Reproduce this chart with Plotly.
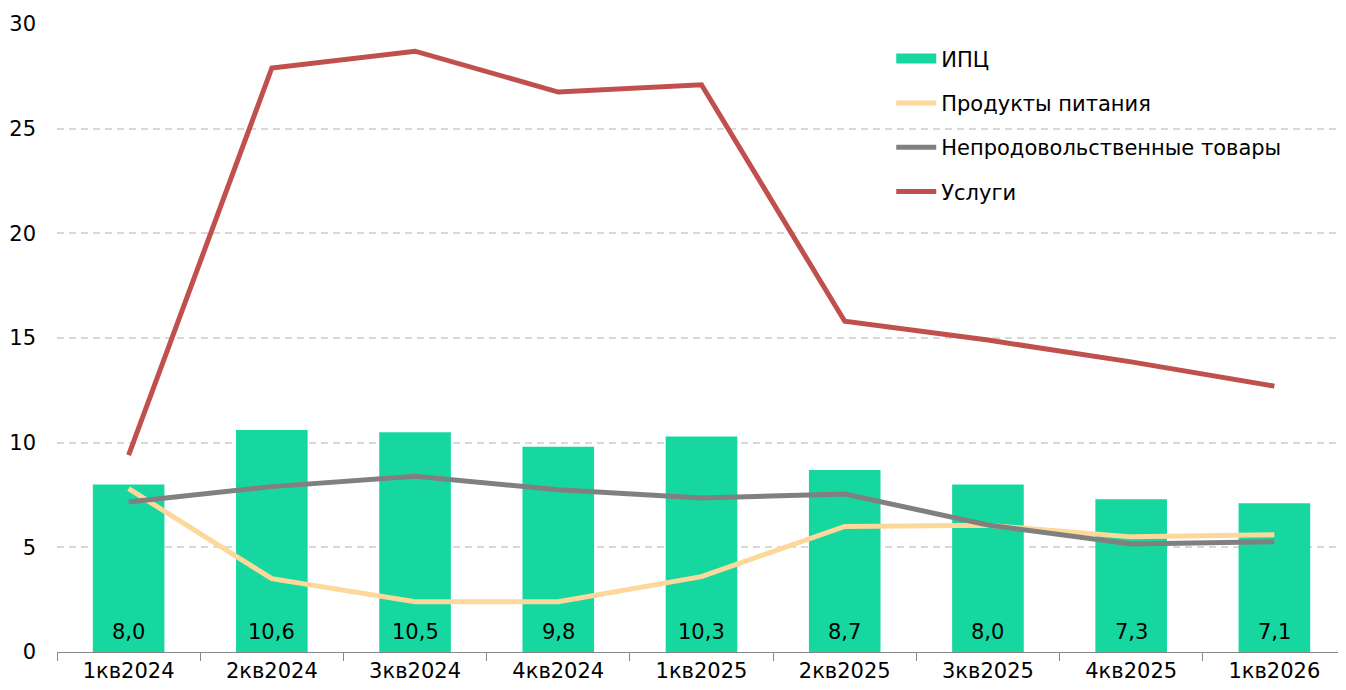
import plotly.graph_objects as go

categories = ["1кв2024", "2кв2024", "3кв2024", "4кв2024", "1кв2025",
              "2кв2025", "3кв2025", "4кв2025", "1кв2026"]
cpi = [8.0, 10.6, 10.5, 9.8, 10.3, 8.7, 8.0, 7.3, 7.1]
food = [7.8, 3.5, 2.4, 2.4, 3.6, 6.0, 6.05, 5.5, 5.6]
nonfood = [7.17, 7.9, 8.4, 7.75, 7.36, 7.55, 6.07, 5.16, 5.27]
services = [9.4, 27.9, 28.7, 26.75, 27.1, 15.8, 14.9, 13.86, 12.7]
y_ticks = [0, 5, 10, 15, 20, 25, 30]

FONT = "DejaVu Sans"
FS = 21
GREEN = "#17D7A0"

fig = go.Figure()
fig.add_trace(go.Bar(
    x=categories, y=cpi, name="ИПЦ",
    marker=dict(color=GREEN, line=dict(width=0)),
    showlegend=False, legendgroup="a",
))
# legend entry for the bars (wide rectangle swatch)
fig.add_trace(go.Scatter(
    x=[None], y=[None], name="ИПЦ", mode="lines",
    line=dict(color=GREEN, width=11), legendgroup="a",
))
fig.add_trace(go.Scatter(
    x=categories, y=food, name="Продукты питания", mode="lines",
    line=dict(color="#FDD89A", width=5), legendgroup="b",
))
fig.add_trace(go.Scatter(
    x=categories, y=nonfood, name="Непродовольственные товары", mode="lines",
    line=dict(color="#808080", width=5), legendgroup="c",
))
fig.add_trace(go.Scatter(
    x=categories, y=services, name="Услуги", mode="lines",
    line=dict(color="#C0504D", width=5), legendgroup="d",
))

annotations = [
    dict(x=c, y=0, xref="x", yref="y", text=f"{v:.1f}".replace(".", ","),
         showarrow=False, yanchor="bottom", yshift=6,
         font=dict(family=FONT, size=FS, color="black"))
    for c, v in zip(categories, cpi)
]

fig.update_layout(
    width=1346, height=690,
    margin=dict(l=49, r=8, t=16, b=46),
    paper_bgcolor="white", plot_bgcolor="white",
    font=dict(family=FONT, size=FS, color="black"),
    bargap=0.5,
    showlegend=True,
    annotations=annotations,
    legend=dict(x=0.6472, y=0.977, xanchor="left", yanchor="top",
                bgcolor="rgba(0,0,0,0)", font=dict(family=FONT, size=FS),
                tracegroupgap=14, traceorder="grouped", itemwidth=40),
    xaxis=dict(
        type="category", showgrid=False, showline=True, linecolor="#888888",
        linewidth=1, ticks="outside", tickson="boundaries", ticklen=8,
        tickcolor="#888888", tickfont=dict(family=FONT, size=FS),
        automargin=False,
    ),
    yaxis=dict(
        range=[0, 30], tickvals=y_ticks, showgrid=True, gridcolor="#D9D9D9",
        griddash="7px,5px", gridwidth=2, zeroline=False, showline=False,
        tickfont=dict(family=FONT, size=FS), ticklabelstandoff=20,
        automargin=False,
    ),
)

fig.write_html("out.html")
